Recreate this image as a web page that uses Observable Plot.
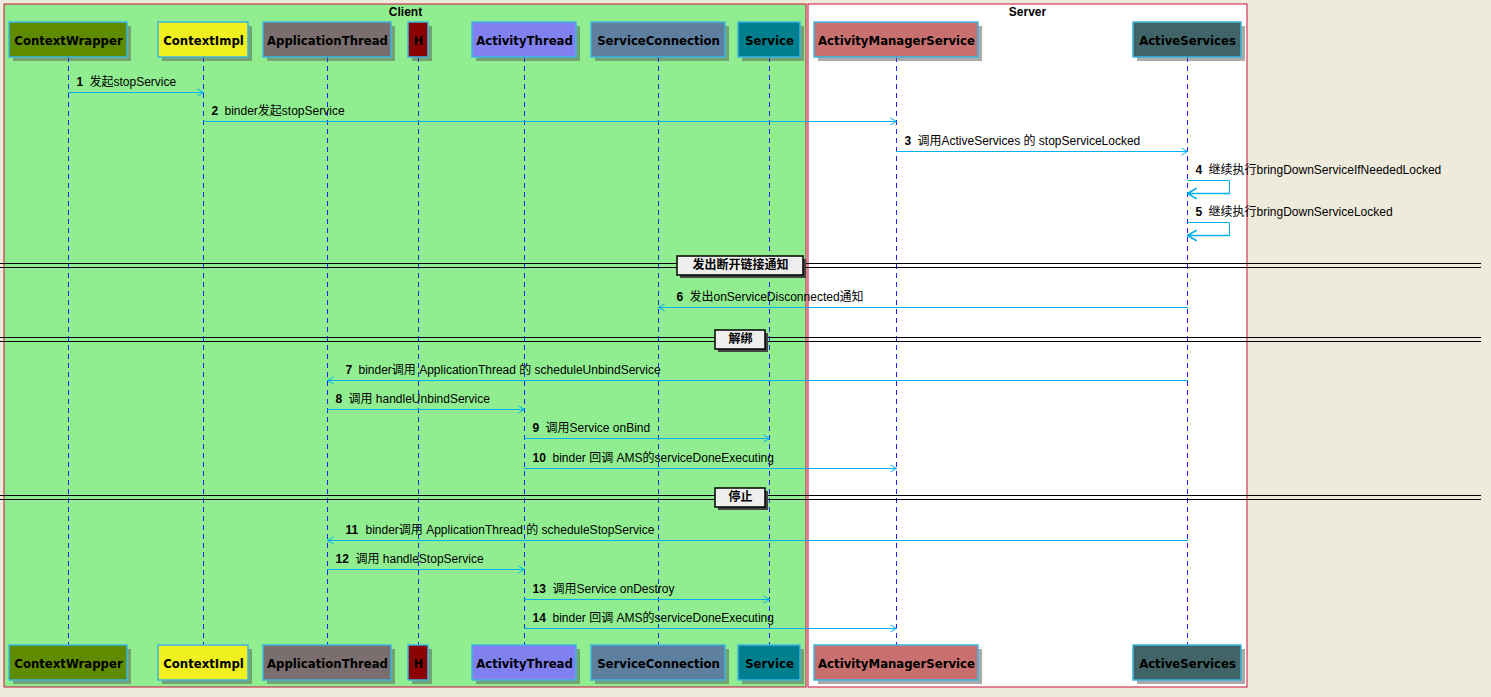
<!DOCTYPE html>
<html><head><meta charset="utf-8">
<script src="https://cdn.jsdelivr.net/npm/d3@7"></script>
<script src="https://cdn.jsdelivr.net/npm/@observablehq/plot@0.6"></script>
<style>body{margin:0;background:#efebdc}</style>
</head><body><div id="chart"></div>
<script>
// participants
const names = ["ContextWrapper","ContextImpl","ApplicationThread","H","ActivityThread","ServiceConnection","Service","ActivityManagerService","ActiveServices"];
const centers = [68,203,327,418,524,658,769,896,1187];
const halfW = [59,45,64,10,52,67,31,82,54];
const fills = ["#5f8b00","#f0f020","#7a6e6e","#8b0000","#8080f0","#5f7f9f","#00808f","#c87070","#406468"];
const participants = names.map((n,i) => ({name:n, x:centers[i], w:halfW[i], fill:fills[i]}));
const px = Object.fromEntries(participants.map(p => [p.name, p.x]));

// messages
const msgNum = [1,2,3,4,5,6,7,8,9,10,11,12,13,14];
const msgFrom = ["ContextWrapper","ContextImpl","ActivityManagerService","ActiveServices","ActiveServices","ActiveServices","ActiveServices","ApplicationThread","ActivityThread","ActivityThread","ActiveServices","ApplicationThread","ActivityThread","ActivityThread"];
const msgTo = ["ContextImpl","ActivityManagerService","ActiveServices","ActiveServices","ActiveServices","ServiceConnection","ApplicationThread","ActivityThread","Service","ActivityManagerService","ApplicationThread","ActivityThread","Service","ActivityManagerService"];
const msgY = [92,121,151,180,222,307,380,409,438,468,540,569,599,628];
const msgText = ["发起stopService","binder发起stopService","调用ActiveServices 的 stopServiceLocked","继续执行bringDownServiceIfNeededLocked","继续执行bringDownServiceLocked","发出onServiceDisconnected通知","binder调用 ApplicationThread 的 scheduleUnbindService","调用 handleUnbindService","调用Service onBind","binder 回调 AMS的serviceDoneExecuting","binder调用 ApplicationThread 的 scheduleStopService","调用 handleStopService","调用Service onDestroy","binder 回调 AMS的serviceDoneExecuting"];
const msgs = msgNum.map((n,i) => {
  const x1 = px[msgFrom[i]], x2 = px[msgTo[i]];
  const self = x1 === x2;
  const lx = self ? x1 + 8 : (x2 > x1 ? x1 + 8 : x2 + 18);
  return {n, x1, x2, y:msgY[i], self, lx, text:msgText[i]};
});
const straight = msgs.filter(m => !m.self);
const selfs = msgs.filter(m => m.self);

// dividers
const divY = [265,339,497];
const divText = ["发出断开链接通知","解绑","停止"];
const divX = [740,740,740];
const divW = [60,22,22];
const dividers = divY.map((y,i) => ({y, text:divText[i], x:divX[i], w:divW[i]}));

const F = "Liberation Sans, DejaVu Sans, Noto Sans CJK SC, sans-serif";
const ARROW = "#00b0f0";

const chart = Plot.plot({
  width: 1491, height: 697, margin: 0,
  x: {domain:[0,1491], range:[0,1491], axis:null},
  y: {domain:[0,697], range:[0,697], axis:null},
  style: {background:"#efebdc", fontFamily:F},
  marks: [
    Plot.rect([{x1:4,x2:806,y1:4,y2:687,f:"#90ee90"},{x1:808,x2:1247,y1:4,y2:687,f:"#ffffff"}],
      {x1:"x1",x2:"x2",y1:"y1",y2:"y2",fill:"f",stroke:"#c8103c",strokeWidth:1}),
    Plot.text([{x:405,t:"Client"},{x:1027,t:"Server"}], {x:"x",y:12,text:"t",fontWeight:"bold",fontSize:12}),
    // lifelines
    Plot.ruleX(participants, {x:"x", y1:57, y2:645, stroke:"#2020ff", strokeDasharray:"5,4", strokeWidth:1}),
    // dividers
    Plot.ruleY(dividers, {y:d => d.y-2, x1:0, x2:1481, stroke:"#000"}),
    Plot.ruleY(dividers, {y:d => d.y+2, x1:0, x2:1481, stroke:"#000"}),
    Plot.rect(dividers, {x1:d=>d.x-d.w-3+3, x2:d=>d.x+d.w+3+3, y1:d=>d.y-9+3, y2:d=>d.y+10+3, fill:"#444"}),
    Plot.rect(dividers, {x1:d=>d.x-d.w-3, x2:d=>d.x+d.w+3, y1:d=>d.y-9, y2:d=>d.y+10, fill:"#eeeeee", stroke:"#000", strokeWidth:1.5}),
    Plot.text(dividers, {x:"x", y:"y", text:"text", fontWeight:"bold", fontSize:12}),
    // messages
    Plot.arrow(straight, {x1:"x1", x2:"x2", y1:"y", y2:"y", stroke:ARROW, headLength:10, strokeWidth:1}),
    Plot.link(selfs, {x1:"x1", x2:d=>d.x1+42, y1:"y", y2:"y", stroke:ARROW}),
    Plot.link(selfs, {x1:d=>d.x1+42, x2:d=>d.x1+42, y1:"y", y2:d=>d.y+13, stroke:ARROW}),
    Plot.arrow(selfs, {x1:d=>d.x1+42, x2:"x1", y1:d=>d.y+13, y2:d=>d.y+13, stroke:ARROW, headLength:10}),
    Plot.text(msgs, {x:"lx", y:d=>d.y-10, text:d=>String(d.n), fontWeight:"bold", textAnchor:"start", fontSize:12}),
    Plot.text(msgs, {x:d=>d.lx+(d.n>9?20:13), y:d=>d.y-10, text:"text", textAnchor:"start", fontSize:12}),
    // participant boxes top and bottom
    ...[22,645].flatMap(top => [
      Plot.rect(participants, {x1:d=>d.x-d.w+4, x2:d=>d.x+d.w+4, y1:top+4, y2:top+39, fill:"#555", fillOpacity:0.5}),
      Plot.rect(participants, {x1:d=>d.x-d.w, x2:d=>d.x+d.w, y1:top, y2:top+35, fill:"fill", stroke:"#3cb6e0", strokeWidth:1.5}),
      Plot.text(participants, {x:"x", y:top+18, text:"name", fontWeight:"bold", fontSize:13, fontFamily:"Liberation Sans Narrow, DejaVu Sans Condensed, sans-serif", fill:"#000"})
    ])
  ]
});
d3.select("#chart").append(() => chart);
</script></body></html>
